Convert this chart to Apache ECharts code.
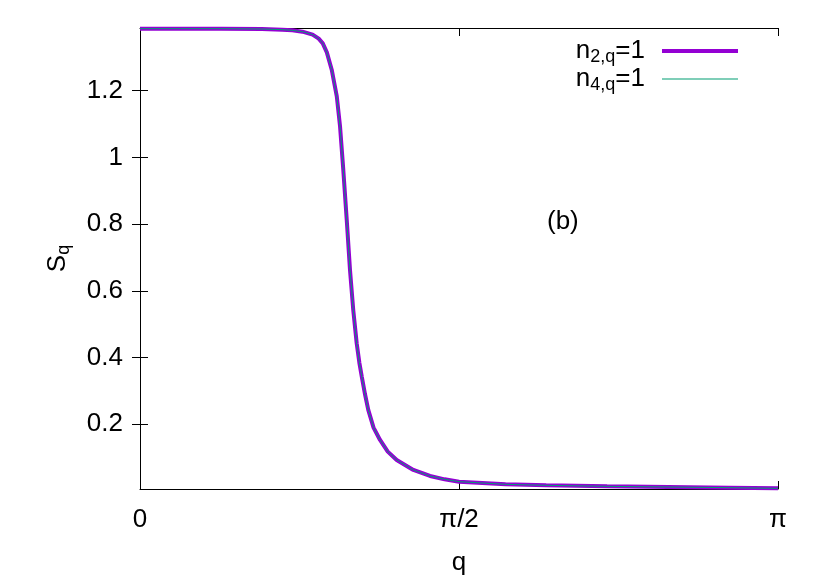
<!DOCTYPE html>
<html>
<head>
<meta charset="utf-8">
<script src="https://cdn.jsdelivr.net/npm/echarts@6/dist/echarts.min.js"></script>
<style>
  html, body { margin: 0; padding: 0; background: #fff; }
  #chart { width: 830px; height: 581px; }
</style>
</head>
<body>
<div id="chart"></div>
<script>
// values
var qs = [0, 0.2, 0.4, 0.6, 0.7, 0.75, 0.8, 0.85, 0.88, 0.9, 0.92, 0.944, 0.969, 0.985, 1.001, 1.018,
  1.034, 1.05, 1.067, 1.08, 1.092, 1.108, 1.124, 1.15, 1.182, 1.22, 1.264, 1.346, 1.428, 1.5, 1.571, 1.8, 2.0, 2.3, 2.6, 2.9, 3.1416]
var s2 = [1.386, 1.386, 1.386, 1.385, 1.383, 1.381, 1.377, 1.368, 1.356, 1.342, 1.315, 1.263, 1.183, 1.093, 0.963, 0.813,
  0.663, 0.543, 0.443, 0.385, 0.343, 0.29, 0.243, 0.19, 0.153, 0.118, 0.093, 0.063, 0.045, 0.035, 0.028, 0.02, 0.017, 0.014, 0.012, 0.01, 0.008]
var s4 = [1.386, 1.386, 1.386, 1.385, 1.383, 1.381, 1.377, 1.368, 1.356, 1.342, 1.315, 1.263, 1.183, 1.093, 0.963, 0.813,
  0.663, 0.543, 0.443, 0.385, 0.343, 0.29, 0.243, 0.19, 0.153, 0.118, 0.093, 0.063, 0.045, 0.035, 0.028, 0.02, 0.017, 0.014, 0.012, 0.01, 0.008]
var yTicks = [0.2, 0.4, 0.6, 0.8, 1, 1.2]
var xTicks = [0, Math.PI / 2, Math.PI]
var xTickLabels = ['0', 'π/2', 'π']

var font = 'Liberation Sans, Arial, Helvetica, sans-serif'

function pairs(xs, ys) {
  var out = []
  for (var i = 0; i < xs.length; i++) out.push([xs[i], ys[i]])
  return out
}

var myChart = echarts.init(document.getElementById('chart'))

var tickStyle = { show: true, inside: true, length: 8, lineStyle: { color: '#000', width: 1 } }
var lineStyle = { show: true, lineStyle: { color: '#000', width: 1 } }
var subRich = {
  b: { fontSize: 26, fontFamily: font, color: '#000', lineHeight: 28 },
  s: { fontSize: 18, fontFamily: font, color: '#000', padding: [12, 0, 0, 0], lineHeight: 28 }
}

var option = {
  animation: false,
  backgroundColor: '#fff',
  grid: { left: 140, right: 52, top: 28, bottom: 92 },
  legend: {
    right: 87,
    top: 31,
    orient: 'vertical',
    align: 'right',
    itemWidth: 76,
    itemHeight: 14,
    itemGap: -2,
    symbolKeepAspect: true,
    data: [
      { name: 'n2', icon: 'path://M0,0H76V4H0Z' },
      { name: 'n4', icon: 'path://M0,0H76V1H0Z' }
    ],
    formatter: function (name) {
      return name === 'n2' ? '{b|n}{s|2,q}{b|=1}' : '{b|n}{s|4,q}{b|=1}'
    },
    textStyle: { color: '#000', fontFamily: font, padding: [0, 12, 0, 0], rich: subRich }
  },
  xAxis: [{
    type: 'value',
    min: 0,
    max: Math.PI,
    name: 'q',
    nameLocation: 'middle',
    nameGap: 61,
    nameTextStyle: { fontSize: 26, fontFamily: font, color: '#000' },
    axisLine: lineStyle,
    axisTick: Object.assign({ customValues: xTicks }, tickStyle),
    axisLabel: {
      customValues: xTicks,
      margin: 18,
      fontSize: 26,
      fontFamily: font,
      color: '#000',
      formatter: function (v) {
        var i = xTicks.findIndex(function (t) { return Math.abs(t - v) < 1e-6 })
        return i >= 0 ? xTickLabels[i] : ''
      }
    },
    splitLine: { show: false }
  }, {
    type: 'value',
    position: 'top',
    min: 0,
    max: Math.PI,
    axisLine: lineStyle,
    axisTick: Object.assign({ customValues: xTicks }, tickStyle),
    axisLabel: { show: false },
    splitLine: { show: false }
  }],
  yAxis: [{
    type: 'value',
    min: 0.006,
    max: 1.388,
    name: '{b|S}{s|q}',
    nameLocation: 'middle',
    nameRotate: 90,
    nameGap: 68,
    nameTextStyle: { color: '#000', rich: subRich },
    axisLine: lineStyle,
    axisTick: Object.assign({ customValues: yTicks }, tickStyle),
    axisLabel: {
      customValues: yTicks,
      margin: 17,
      fontSize: 26,
      fontFamily: font,
      color: '#000'
    },
    splitLine: { show: false }
  }, {
    type: 'value',
    position: 'right',
    min: 0.006,
    max: 1.388,
    axisLine: lineStyle,
    axisTick: Object.assign({ customValues: yTicks }, tickStyle),
    axisLabel: { show: false },
    splitLine: { show: false }
  }],
  graphic: [{
    type: 'text',
    left: 547,
    top: 209,
    style: { text: '(b)', fontSize: 26, fontFamily: font, fill: '#000' }
  }],
  series: [{
    name: 'n2',
    type: 'line',
    symbol: 'none',
    data: pairs(qs, s2),
    itemStyle: { color: '#9400d3' },
    lineStyle: { color: '#9400d3', width: 4 }
  }, {
    name: 'n4',
    type: 'line',
    symbol: 'none',
    data: pairs(qs, s4),
    itemStyle: { color: '#009e73' },
    lineStyle: { color: '#009e73', width: 1 }
  }]
}
myChart.setOption(option)
</script>
</body>
</html>
